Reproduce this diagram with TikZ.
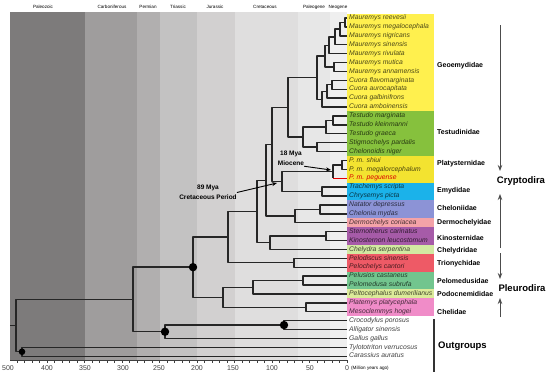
\documentclass[tikz,border=0pt]{standalone}
\usepackage{fontspec}
\setmainfont{Liberation Sans}
\usetikzlibrary{arrows.meta}

% period bands
\definecolor{paleo}{HTML}{7D7B7B}
\definecolor{carbon}{HTML}{9F9D9D}
\definecolor{perm}{HTML}{B1AFAF}
\definecolor{trias}{HTML}{C3C2C2}
\definecolor{jura}{HTML}{D2D0D0}
\definecolor{creta}{HTML}{DFDEDE}
\definecolor{paleog}{HTML}{E7E7E7}
\definecolor{neog}{HTML}{EFEFEF}
% family boxes
\definecolor{geoemy}{HTML}{FFF04E}
\definecolor{testu}{HTML}{86C13D}
\definecolor{platy}{HTML}{F3E330}
\definecolor{emy}{HTML}{1BB2EA}
\definecolor{chelon}{HTML}{8C93D6}
\definecolor{dermo}{HTML}{F4A3A8}
\definecolor{kino}{HTML}{A65BA8}
\definecolor{chelyd}{HTML}{D2E9A2}
\definecolor{trion}{HTML}{EE5A66}
\definecolor{pelom}{HTML}{72C58E}
\definecolor{podoc}{HTML}{DCEB9A}
\definecolor{chelid}{HTML}{F08CC8}

\begin{document}
\begin{tikzpicture}[x=1pt, y=-1pt,
  branch/.style={line width=1.4pt, draw=black!85, line join=round},
  taxon/.style={anchor=west, inner xsep=2pt, inner ysep=0pt, text height=5pt, text depth=1.5pt,
    font=\fontsize{6.8}{8}\selectfont\itshape},
  famlabel/.style={anchor=west, inner sep=0pt, font=\fontsize{7}{8}\selectfont\bfseries},
  biglabel/.style={inner sep=0pt, font=\fontsize{9.5}{11}\selectfont\bfseries},
  mya/.style={align=center, inner sep=0pt, font=\fontsize{6.5}{10.5}\selectfont\bfseries},
  pointer/.style={line width=0.9pt, -{Stealth[length=5pt, width=4pt]}},
  bracket/.style={line width=1pt, draw=black!70, -{Stealth[length=6pt, width=4.5pt]}},
  node dot/.style={fill=black},
  era/.style={inner sep=0pt, font=\fontsize{4.6}{5}\selectfont},
  axislabel/.style={inner sep=0pt, text=black!75, font=\fontsize{7}{8}\selectfont}]
  \useasboundingbox (0,0) rectangle (550,378);

  % Geological periods
  \fill[paleo] (10,12) rectangle (85,360);
  \fill[carbon] (85,12) rectangle (137,360);
  \fill[perm] (137,12) rectangle (160,360);
  \fill[trias] (160,12) rectangle (197,360);
  \fill[jura] (197,12) rectangle (235,360);
  \fill[creta] (235,12) rectangle (298,360);
  \fill[paleog] (298,12) rectangle (330,360);
  \fill[neog] (330,12) rectangle (347,360);
  \foreach \name/\x in {Paleozoic/43, Carboniferous/112, Permian/148, Triassic/178,
                        Jurassic/215, Cretaceous/265, Paleogene/314, Neogene/338}
    \node[era] (era-\name) at (\x,7) {\name};

  % Time axis
  \draw[black!75, line width=0.6pt] (10,360) -- (347,360);
  \foreach \m in {0,10,...,440}
    \draw[black!75, line width=0.4pt] (347-0.75*\m,360) -- ++(0,2.5);
  \foreach \v/\x in {500/8, 400/47, 350/85, 300/123, 250/159, 200/197, 150/233, 100/272, 50/310, 0/347}
    \node[axislabel] (ax-\v) at (\x,368) {\v};
  \node[inner sep=0pt, anchor=west, font=\fontsize{4.6}{5}\selectfont] (ax-unit) at (351,368) {(Million years ago)};

  % Family boxes
  \fill[geoemy] (347,13.55) rectangle (434,111.45);
  \fill[testu] (347,111.45) rectangle (434,155.95);
  \fill[platy] (347,155.95) rectangle (434,182.65);
  \fill[emy] (347,182.65) rectangle (434,200.45);
  \fill[chelon] (347,200.45) rectangle (434,218.25);
  \fill[dermo] (347,218.25) rectangle (434,227.15);
  \fill[kino] (347,227.15) rectangle (434,244.95);
  \fill[chelyd] (347,244.95) rectangle (434,253.85);
  \fill[trion] (347,253.85) rectangle (434,271.65);
  \fill[pelom] (347,271.65) rectangle (434,289.45);
  \fill[podoc] (347,289.45) rectangle (434,298.35);
  \fill[chelid] (347,298.35) rectangle (434,316.15);

  % Taxa
  \node[taxon, text=geoemy!30!black] (t0) at (347,18) {Mauremys reevesii};
  \node[taxon, text=geoemy!30!black] (t1) at (347,26.9) {Mauremys megalocephala};
  \node[taxon, text=geoemy!30!black] (t2) at (347,35.8) {Mauremys nigricans};
  \node[taxon, text=geoemy!30!black] (t3) at (347,44.7) {Mauremys sinensis};
  \node[taxon, text=geoemy!30!black] (t4) at (347,53.6) {Mauremys rivulata};
  \node[taxon, text=geoemy!30!black] (t5) at (347,62.5) {Mauremys mutica};
  \node[taxon, text=geoemy!30!black] (t6) at (347,71.4) {Mauremys annamensis};
  \node[taxon, text=geoemy!30!black] (t7) at (347,80.3) {Cuora flavomarginata};
  \node[taxon, text=geoemy!30!black] (t8) at (347,89.2) {Cuora aurocapitata};
  \node[taxon, text=geoemy!30!black] (t9) at (347,98.1) {Cuora galbinifrons};
  \node[taxon, text=geoemy!30!black] (t10) at (347,107) {Cuora amboinensis};
  \node[taxon, text=testu!30!black] (t11) at (347,115.9) {Testudo marginata};
  \node[taxon, text=testu!30!black] (t12) at (347,124.8) {Testudo kleinmanni};
  \node[taxon, text=testu!30!black] (t13) at (347,133.7) {Testudo graeca};
  \node[taxon, text=testu!30!black] (t14) at (347,142.6) {Stigmochelys pardalis};
  \node[taxon, text=testu!30!black] (t15) at (347,151.5) {Chelonoidis niger};
  \node[taxon, text=platy!30!black] (t16) at (347,160.4) {P. m. shiui};
  \node[taxon, text=platy!30!black] (t17) at (347,169.3) {P. m. megalorcephalum};
  \node[taxon, text=red!85!black] (t18) at (347,178.2) {P. m. peguense};
  \node[taxon, text=emy!30!black] (t19) at (347,187.1) {Trachemys scripta};
  \node[taxon, text=emy!30!black] (t20) at (347,196) {Chrysemys picta};
  \node[taxon, text=chelon!30!black] (t21) at (347,204.9) {Natator depressus};
  \node[taxon, text=chelon!30!black] (t22) at (347,213.8) {Chelonia mydas};
  \node[taxon, text=dermo!30!black] (t23) at (347,222.7) {Dermochelys coriacea};
  \node[taxon, text=kino!30!black] (t24) at (347,231.6) {Sternotherus carinatus};
  \node[taxon, text=kino!30!black] (t25) at (347,240.5) {Kinosternon leucostomum};
  \node[taxon, text=chelyd!30!black] (t26) at (347,249.4) {Chelydra serpentina};
  \node[taxon, text=trion!30!black] (t27) at (347,258.3) {Pelodiscus sinensis};
  \node[taxon, text=trion!30!black] (t28) at (347,267.2) {Pelochelys cantori};
  \node[taxon, text=pelom!30!black] (t29) at (347,276.1) {Pelusios castaneus};
  \node[taxon, text=pelom!30!black] (t30) at (347,285) {Pelomedusa subrufa};
  \node[taxon, text=podoc!30!black] (t31) at (347,293.9) {Peltocephalus dumerilianus};
  \node[taxon, text=chelid!30!black] (t32) at (347,302.8) {Platemys platycephala};
  \node[taxon, text=chelid!30!black] (t33) at (347,311.7) {Mesoclemmys hogei};
  \node[taxon, text=black!75] (t34) at (347,320.6) {Crocodylus porosus};
  \node[taxon, text=black!75] (t35) at (347,329.5) {Alligator sinensis};
  \node[taxon, text=black!75] (t36) at (347,338.4) {Gallus gallus};
  \node[taxon, text=black!75] (t37) at (347,347.3) {Tylototriton verrucosus};
  \node[taxon, text=black!75] (t38) at (347,356.2) {Carassius auratus};

  % Inner nodes of the tree
  \coordinate (a1) at (345,22.45);
  \coordinate (a2) at (340,29.13);
  \coordinate (a3) at (335,36.91);
  \coordinate (a4) at (329,45.26);
  \coordinate (b1) at (334,66.95);
  \coordinate (ab) at (325,56.1);
  \coordinate (c1) at (332,84.75);
  \coordinate (c2) at (327,91.43);
  \coordinate (c3) at (322,99.2);
  \coordinate (ngeo) at (317,77.65);
  \coordinate (d1) at (333,120.35);
  \coordinate (d2) at (326,127.03);
  \coordinate (d3) at (317,147.05);
  \coordinate (d4) at (303,137.04);
  \coordinate (gt) at (288,107.35);
  \coordinate (p1) at (342,164.85);
  \coordinate (p2) at (333,171.53);
  \coordinate (e1) at (322,191.55);
  \coordinate (pe) at (282,181.54);
  \coordinate (ts) at (272,144.45);
  \coordinate (h1) at (320,209.35);
  \coordinate (hd) at (295,216.03);
  \coordinate (tc) at (266,180.24);
  \coordinate (k1) at (326,236.05);
  \coordinate (kc) at (270,242.73);
  \coordinate (tk) at (257,211.48);
  \coordinate (tr) at (294,262.75);
  \coordinate (cry) at (228,237.1);
  \coordinate (pm) at (303,280.55);
  \coordinate (pp) at (253,287.23);
  \coordinate (cl) at (306,307.25);
  \coordinate (ple) at (223,297.24);
  \coordinate (tes) at (193,267.17);
  \coordinate (cro) at (284,325.05);
  \coordinate (arc) at (165,331.73);
  \coordinate (amn) at (133,299.45);
  \coordinate (af) at (22,351.75);
  \coordinate (rt) at (16,325.6);
  \coordinate (root) at (10,325.6);

  % Branches
  \draw[branch] (t0.west) -| (a1) |- (t1.west);
  \draw[branch] (a1) -| (a2) |- (t2.west);
  \draw[branch] (a2) -| (a3) |- (t3.west);
  \draw[branch] (a3) -| (a4) |- (t4.west);
  \draw[branch] (t5.west) -| (b1) |- (t6.west);
  \draw[branch] (a4) -| (ab) |- (b1);
  \draw[branch] (t7.west) -| (c1) |- (t8.west);
  \draw[branch] (c1) -| (c2) |- (t9.west);
  \draw[branch] (c2) -| (c3) |- (t10.west);
  \draw[branch] (ab) -| (ngeo) |- (c3);
  \draw[branch] (t11.west) -| (d1) |- (t12.west);
  \draw[branch] (d1) -| (d2) |- (t13.west);
  \draw[branch] (t14.west) -| (d3) |- (t15.west);
  \draw[branch] (d2) -| (d4) |- (d3);
  \draw[branch] (ngeo) -| (gt) |- (d4);
  \draw[branch] (t16.west) -| (p1) |- (t17.west);
  \draw[branch] (p1) -| (p2) -- (p2 |- t18.west);
  \draw[branch, draw=red!90!black] (p2 |- t18.west) -- (t18.west);
  \draw[branch] (t19.west) -| (e1) |- (t20.west);
  \draw[branch] (p2) -| (pe) |- (e1);
  \draw[branch] (gt) -| (ts) |- (pe);
  \draw[branch] (t21.west) -| (h1) |- (t22.west);
  \draw[branch] (h1) -| (hd) |- (t23.west);
  \draw[branch] (ts) -| (tc) |- (hd);
  \draw[branch] (t24.west) -| (k1) |- (t25.west);
  \draw[branch] (k1) -| (kc) |- (t26.west);
  \draw[branch] (tc) -| (tk) |- (kc);
  \draw[branch] (t27.west) -| (tr) |- (t28.west);
  \draw[branch] (tk) -| (cry) |- (tr);
  \draw[branch] (t29.west) -| (pm) |- (t30.west);
  \draw[branch] (pm) -| (pp) |- (t31.west);
  \draw[branch] (t32.west) -| (cl) |- (t33.west);
  \draw[branch] (pp) -| (ple) |- (cl);
  \draw[branch] (cry) -| (tes) |- (ple);
  \draw[branch] (t34.west) -| (cro) |- (t35.west);
  \draw[branch] (cro) -| (arc) |- (t36.west);
  \draw[branch] (tes) -| (amn) |- (arc);
  \draw[branch] (t37.west) -| (af) |- (t38.west);
  \draw[branch] (amn) -| (rt) |- (af);
  \draw[branch] (root) -- (rt);

  % Calibration points
  \fill[node dot] (tes) circle (4.2pt);
  \fill[node dot] (cro) circle (4.2pt);
  \fill[node dot] (arc) circle (4.2pt);
  \fill[node dot] (af) circle (3.3pt);

  % Divergence notes
  \node[mya] (l89) at (208,192.5) {89 Mya\\Cretaceous Period};
  \coordinate (p89) at (277,183);
  \draw[pointer] (l89.east) -- (p89);
  \node[mya] (l18) at (291,158.5) {18 Mya\\Miocene};
  \coordinate (p18) at (331,170);
  \draw[pointer] (l18.south east) -- (p18);

  % Families
  \node[famlabel] (f-geo) at (437,66) {Geoemydidae};
  \node[famlabel] (f-tes) at (437,132) {Testudinidae};
  \node[famlabel] (f-pla) at (437,164) {Platysternidae};
  \node[famlabel] (f-emy) at (437,190.5) {Emydidae};
  \node[famlabel] (f-che) at (437,208) {Cheloniidae};
  \node[famlabel] (f-der) at (437,223) {Dermochelyidae};
  \node[famlabel] (f-kin) at (437,238) {Kinosternidae};
  \node[famlabel] (f-chd) at (437,251) {Chelydridae};
  \node[famlabel] (f-tri) at (437,264) {Trionychidae};
  \node[famlabel] (f-pel) at (437,281) {Pelomedusidae};
  \node[famlabel] (f-pod) at (437,294) {Podocnemididae};
  \node[famlabel] (f-chl) at (437,312) {Chelidae};

  % Suborders and outgroups
  \node[biglabel] (crypto) at (521,181) {Cryptodira};
  \coordinate (cr-top) at (500,25);
  \coordinate (cr-up) at (500,171);
  \coordinate (cr-down) at (500,194);
  \coordinate (cr-bot) at (500,248);
  \draw[bracket] (cr-top) -- (cr-up);
  \draw[bracket] (cr-bot) -- (cr-down);
  \node[biglabel] (pleuro) at (522,288.5) {Pleurodira};
  \coordinate (pl-top) at (500,253);
  \coordinate (pl-up) at (500,279);
  \coordinate (pl-down) at (500,298);
  \coordinate (pl-bot) at (500,317);
  \draw[bracket] (pl-top) -- (pl-up);
  \draw[bracket] (pl-bot) -- (pl-down);
  \node[biglabel, anchor=west] (outg) at (438,346) {Outgroups};
  \coordinate (og-top) at (434,319);
  \coordinate (og-bot) at (434,372);
  \draw[line width=1.3pt, black!80] (og-top) -- (og-bot);
\end{tikzpicture}
\end{document}
